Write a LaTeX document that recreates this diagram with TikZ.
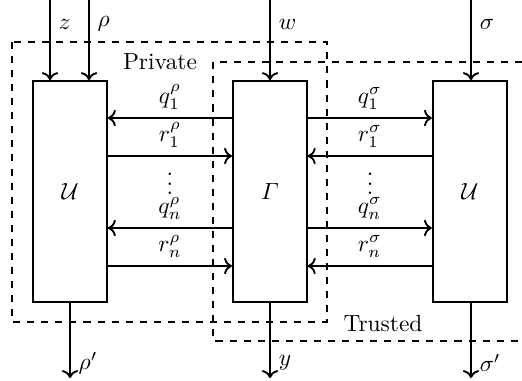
\documentclass[tikz,border=0pt]{standalone}
\usepackage{tikz}
\usetikzlibrary{positioning,arrows.meta}
\usepackage{amsmath}

\begin{document}
\begin{tikzpicture}[>=To,x=0.015cm,y=-0.015cm,node distance=1.86cm,thick]
  \useasboundingbox (0,0) rectangle (522,381);
  \node[draw,minimum width=1.11cm,minimum height=3.315cm] (u1) at (70,191.5) {$\mathcal{U}$};
  \node[draw,minimum width=1.11cm,minimum height=3.315cm,right=of u1] (g) {$\varGamma$};
  \node[draw,minimum width=1.11cm,minimum height=3.315cm,right=of g] (u2) {$\mathcal{U}$};
  % Private and Trusted regions
  \draw[dashed] (12,42) rectangle (327,322);
  \node (priv) at (160,62) {Private};
  \draw[dashed] (522,62) -- (213,62) -- (213,341) -- (522,341);
  \node (trust) at (383,323) {Trusted};
  % inputs and outputs
  \coordinate (z) at (50,0);
  \coordinate (rho) at (89,0);
  \coordinate (w) at (270,0);
  \coordinate (sigma) at (471,0);
  \coordinate (rho') at (70,378);
  \coordinate (y) at (270,378);
  \coordinate (sigma') at (471,378);
  \draw[->] (z) -- (z |- u1.north) node[pos=0.3,right] {$z$};
  \draw[->] (rho) -- (rho |- u1.north) node[pos=0.3,right] {$\rho$};
  \draw[->] (w) -- (w |- g.north) node[pos=0.3,right] {$w$};
  \draw[->] (sigma) -- (sigma |- u2.north) node[pos=0.3,right] {$\sigma$};
  \draw[->] (rho' |- u1.south) -- (rho') node[pos=0.8,right] {$\rho'$};
  \draw[->] (y |- g.south) -- (y) node[pos=0.8,right] {$y$};
  \draw[->] (sigma' |- u2.south) -- (sigma') node[pos=0.8,right] {$\sigma'$};
  % queries and replies
  \draw[<-] (u1.east |- 0,118) -- (g.west |- 0,118) node[midway,above] {$q_1^\rho$};
  \draw[->] (u1.east |- 0,156) -- (g.west |- 0,156) node[midway,above] {$r_1^\rho$};
  \draw[<-] (u1.east |- 0,228) -- (g.west |- 0,228) node[midway,above] {$q_n^\rho$};
  \draw[->] (u1.east |- 0,266) -- (g.west |- 0,266) node[midway,above] {$r_n^\rho$};
  \node[inner sep=0] (dl) at (170,177) {$\vdots$};
  \draw[->] (g.east |- 0,118) -- (u2.west |- 0,118) node[midway,above] {$q_1^\sigma$};
  \draw[<-] (g.east |- 0,156) -- (u2.west |- 0,156) node[midway,above] {$r_1^\sigma$};
  \draw[->] (g.east |- 0,228) -- (u2.west |- 0,228) node[midway,above] {$q_n^\sigma$};
  \draw[<-] (g.east |- 0,266) -- (u2.west |- 0,266) node[midway,above] {$r_n^\sigma$};
  \node[inner sep=0] (dr) at (370,177) {$\vdots$};
\end{tikzpicture}
\end{document}
